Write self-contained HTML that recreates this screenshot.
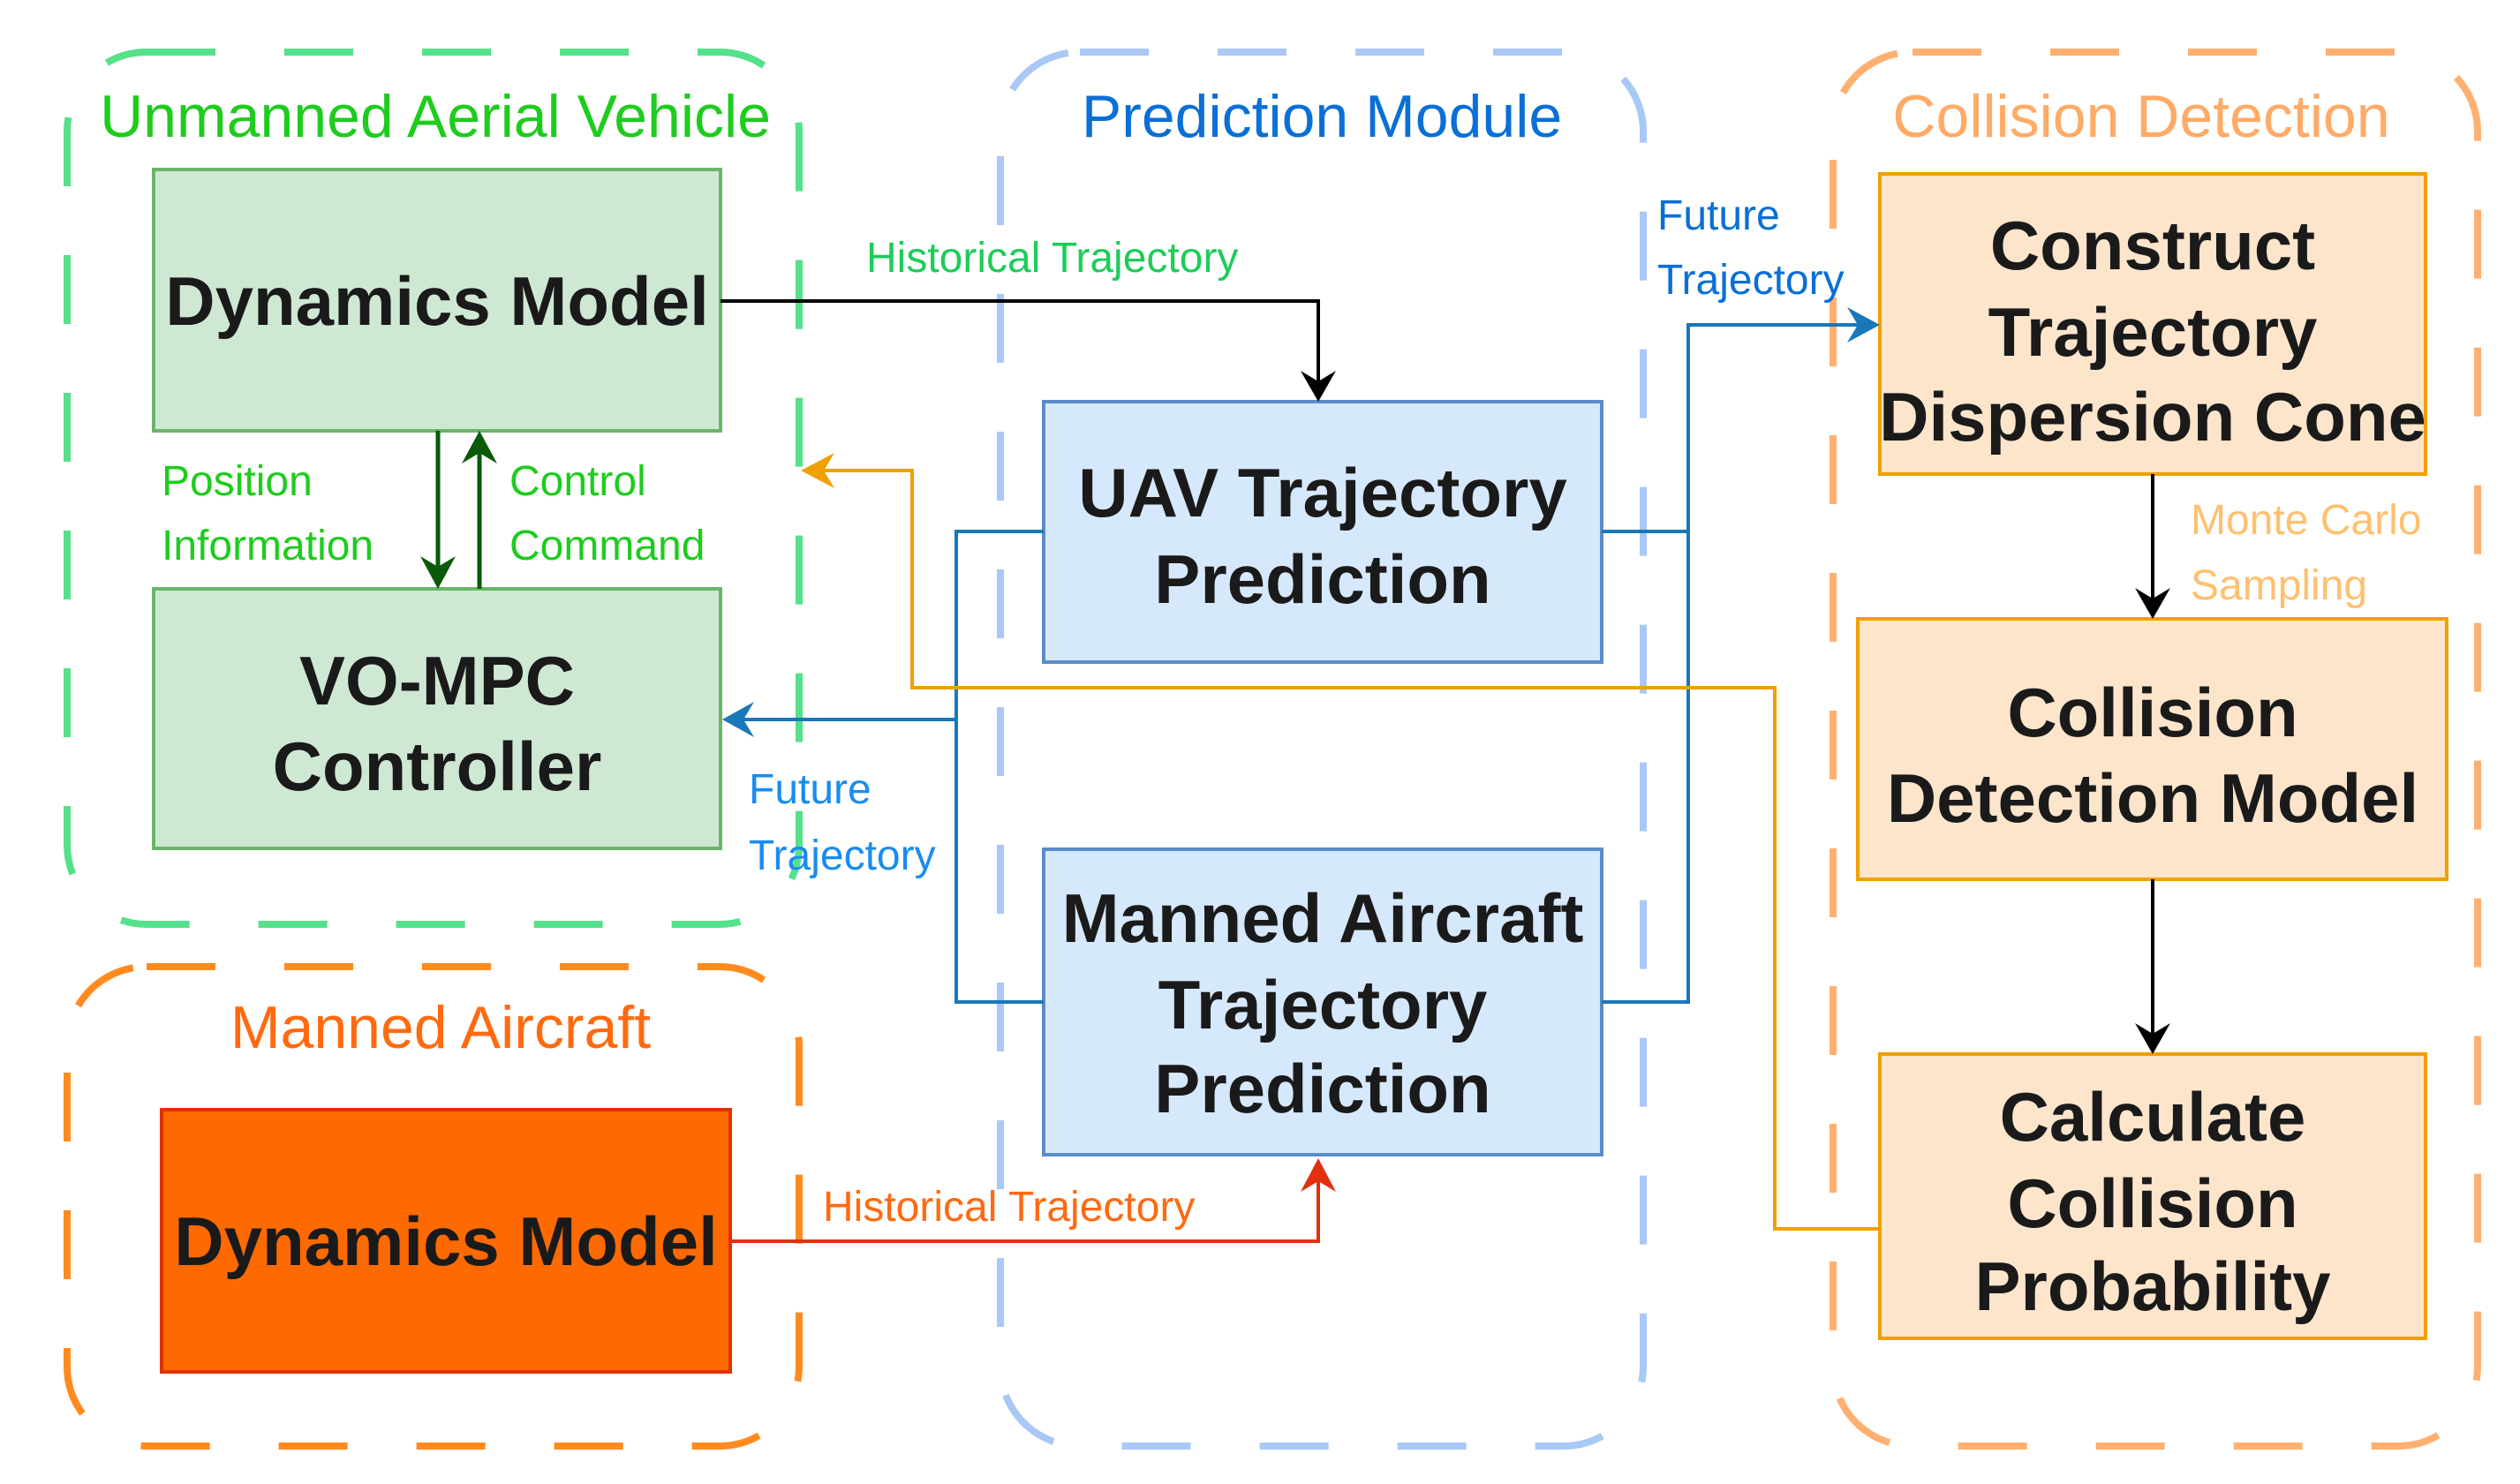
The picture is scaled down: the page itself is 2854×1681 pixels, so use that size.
<!DOCTYPE html>
<html><head><meta charset="utf-8"><style>
html,body{margin:0;padding:0;background:#fff;}
svg{display:block;}
text{font-family:"Liberation Sans",sans-serif;}
.b{font-weight:bold;font-size:78px;fill:#1a1a1a;text-anchor:middle;}
.t{font-size:68px;text-anchor:middle;}
.s{font-size:48px;}
</style></head><body>
<svg width="2854" height="1681" viewBox="0 0 2854 1681" xmlns="http://www.w3.org/2000/svg">
<!-- group boxes -->
<rect x="76" y="59" width="829" height="988" rx="90" fill="none" stroke="#55e08a" stroke-width="8" stroke-dasharray="78 78"/>
<rect x="76" y="1095" width="829" height="543" rx="90" fill="none" stroke="#ff8a1e" stroke-width="8" stroke-dasharray="78 78"/>
<rect x="1133" y="59" width="728" height="1579" rx="90" fill="none" stroke="#a9c8f6" stroke-width="8" stroke-dasharray="78 78"/>
<rect x="2076" y="59" width="730" height="1579" rx="90" fill="none" stroke="#ffb070" stroke-width="8" stroke-dasharray="78 78"/>
<!-- titles -->
<text class="t" x="493" y="155" fill="#1ecc1e">Unmanned Aerial Vehicle</text>
<text class="t" x="499" y="1187" fill="#ff6a10">Manned Aircraft</text>
<text class="t" x="1497" y="155" fill="#0a6fd6">Prediction Module</text>
<text class="t" x="2425" y="155" fill="#ffaa66">Collision Detection</text>
<!-- boxes -->
<rect x="174" y="192" width="642" height="296" fill="#cfe8d4" stroke="#6ab56a" stroke-width="4"/>
<text class="b" x="495" y="368">Dynamics Model</text>
<rect x="174" y="667" width="642" height="294" fill="#cfe8d4" stroke="#6ab56a" stroke-width="4"/>
<text class="b" x="495" y="798">VO-MPC</text>
<text class="b" x="495" y="895">Controller</text>
<rect x="183" y="1257" width="644" height="297" fill="#ff6a00" stroke="#e03000" stroke-width="4"/>
<text class="b" x="505" y="1433">Dynamics Model</text>
<rect x="1182" y="455" width="632" height="295" fill="#d6e8fb" stroke="#5a8cc8" stroke-width="4"/>
<text class="b" x="1498" y="585">UAV Trajectory</text>
<text class="b" x="1498" y="683">Prediction</text>
<rect x="1182" y="962" width="632" height="346" fill="#d6e8fb" stroke="#5a8cc8" stroke-width="4"/>
<text class="b" x="1498" y="1067">Manned Aircraft</text>
<text class="b" x="1498" y="1165">Trajectory</text>
<text class="b" x="1498" y="1260">Prediction</text>
<rect x="2129" y="197" width="618" height="340" fill="#fde5cc" stroke="#f0a000" stroke-width="4"/>
<text class="b" x="2438" y="305">Construct</text>
<text class="b" x="2438" y="403">Trajectory</text>
<text class="b" x="2438" y="499">Dispersion Cone</text>
<rect x="2104" y="701" width="667" height="295" fill="#fde5cc" stroke="#f0a000" stroke-width="4"/>
<text class="b" x="2438" y="834">Collision</text>
<text class="b" x="2438" y="931">Detection Model</text>
<rect x="2129" y="1194" width="618" height="322" fill="#fde5cc" stroke="#f0a000" stroke-width="4"/>
<text class="b" x="2438" y="1292">Calculate</text>
<text class="b" x="2438" y="1390">Collision</text>
<text class="b" x="2438" y="1484">Probability</text>
<!-- connectors -->
<polyline points="816,341 1493,341 1493,440" fill="none" stroke="#000" stroke-width="4"/>
<path d="M1473,420 L1493,455 L1513,420 L1493,432z" fill="#000"/>
<line x1="496" y1="488" x2="496" y2="650" stroke="#0a5a0a" stroke-width="5"/>
<path d="M476,630 L496,667 L516,630 L496,642z" fill="#0a5a0a"/>
<line x1="543" y1="667" x2="543" y2="505" stroke="#0a5a0a" stroke-width="5"/>
<path d="M523,525 L543,488 L563,525 L543,513z" fill="#0a5a0a"/>
<polyline points="827,1406 1493,1406 1493,1330" fill="none" stroke="#e03010" stroke-width="4"/>
<path d="M1473,1350 L1493,1312 L1513,1350 L1493,1338z" fill="#e03010"/>
<polyline points="1182,602 1083,602 1083,1135 1182,1135" fill="none" stroke="#1a78b8" stroke-width="4"/>
<line x1="1083" y1="815" x2="832" y2="815" stroke="#1a78b8" stroke-width="4"/>
<path d="M854,795 L818,815 L854,835 L842,815z" fill="#1a78b8"/>
<path d="M1814,602 L1912,602 M1814,1135 L1912,1135 L1912,368 L2110,368" fill="none" stroke="#1a78b8" stroke-width="4"/>
<path d="M2092,348 L2129,368 L2092,388 L2104,368z" fill="#1a78b8"/>
<polyline points="2129,1392 2010,1392 2010,779 1033,779 1033,533 925,533" fill="none" stroke="#f0a000" stroke-width="4"/>
<path d="M945,513 L907,533 L945,553 L933,533z" fill="#f0a000"/>
<line x1="2438" y1="537" x2="2438" y2="686" stroke="#000" stroke-width="4"/>
<path d="M2418,666 L2438,701 L2458,666 L2438,678z" fill="#000"/>
<line x1="2438" y1="996" x2="2438" y2="1179" stroke="#000" stroke-width="4"/>
<path d="M2418,1159 L2438,1194 L2458,1159 L2438,1171z" fill="#000"/>
<!-- labels -->
<text class="s" x="981" y="308" fill="#1ecc5a">Historical Trajectory</text>
<text class="s" x="183" y="561" fill="#1ecc1e">Position</text>
<text class="s" x="183" y="634" fill="#1ecc1e">Information</text>
<text class="s" x="577" y="561" fill="#1ecc1e">Control</text>
<text class="s" x="577" y="634" fill="#1ecc1e">Command</text>
<text class="s" x="848" y="910" fill="#1a8cf0">Future</text>
<text class="s" x="848" y="985" fill="#1a8cf0">Trajectory</text>
<text class="s" x="1877" y="260" fill="#0a6fd6">Future</text>
<text class="s" x="1877" y="333" fill="#0a6fd6">Trajectory</text>
<text class="s" x="932" y="1383" fill="#ff6a10">Historical Trajectory</text>
<text class="s" x="2481" y="605" fill="#ffc070">Monte Carlo</text>
<text class="s" x="2481" y="679" fill="#ffc070">Sampling</text>
</svg>
</body></html>
